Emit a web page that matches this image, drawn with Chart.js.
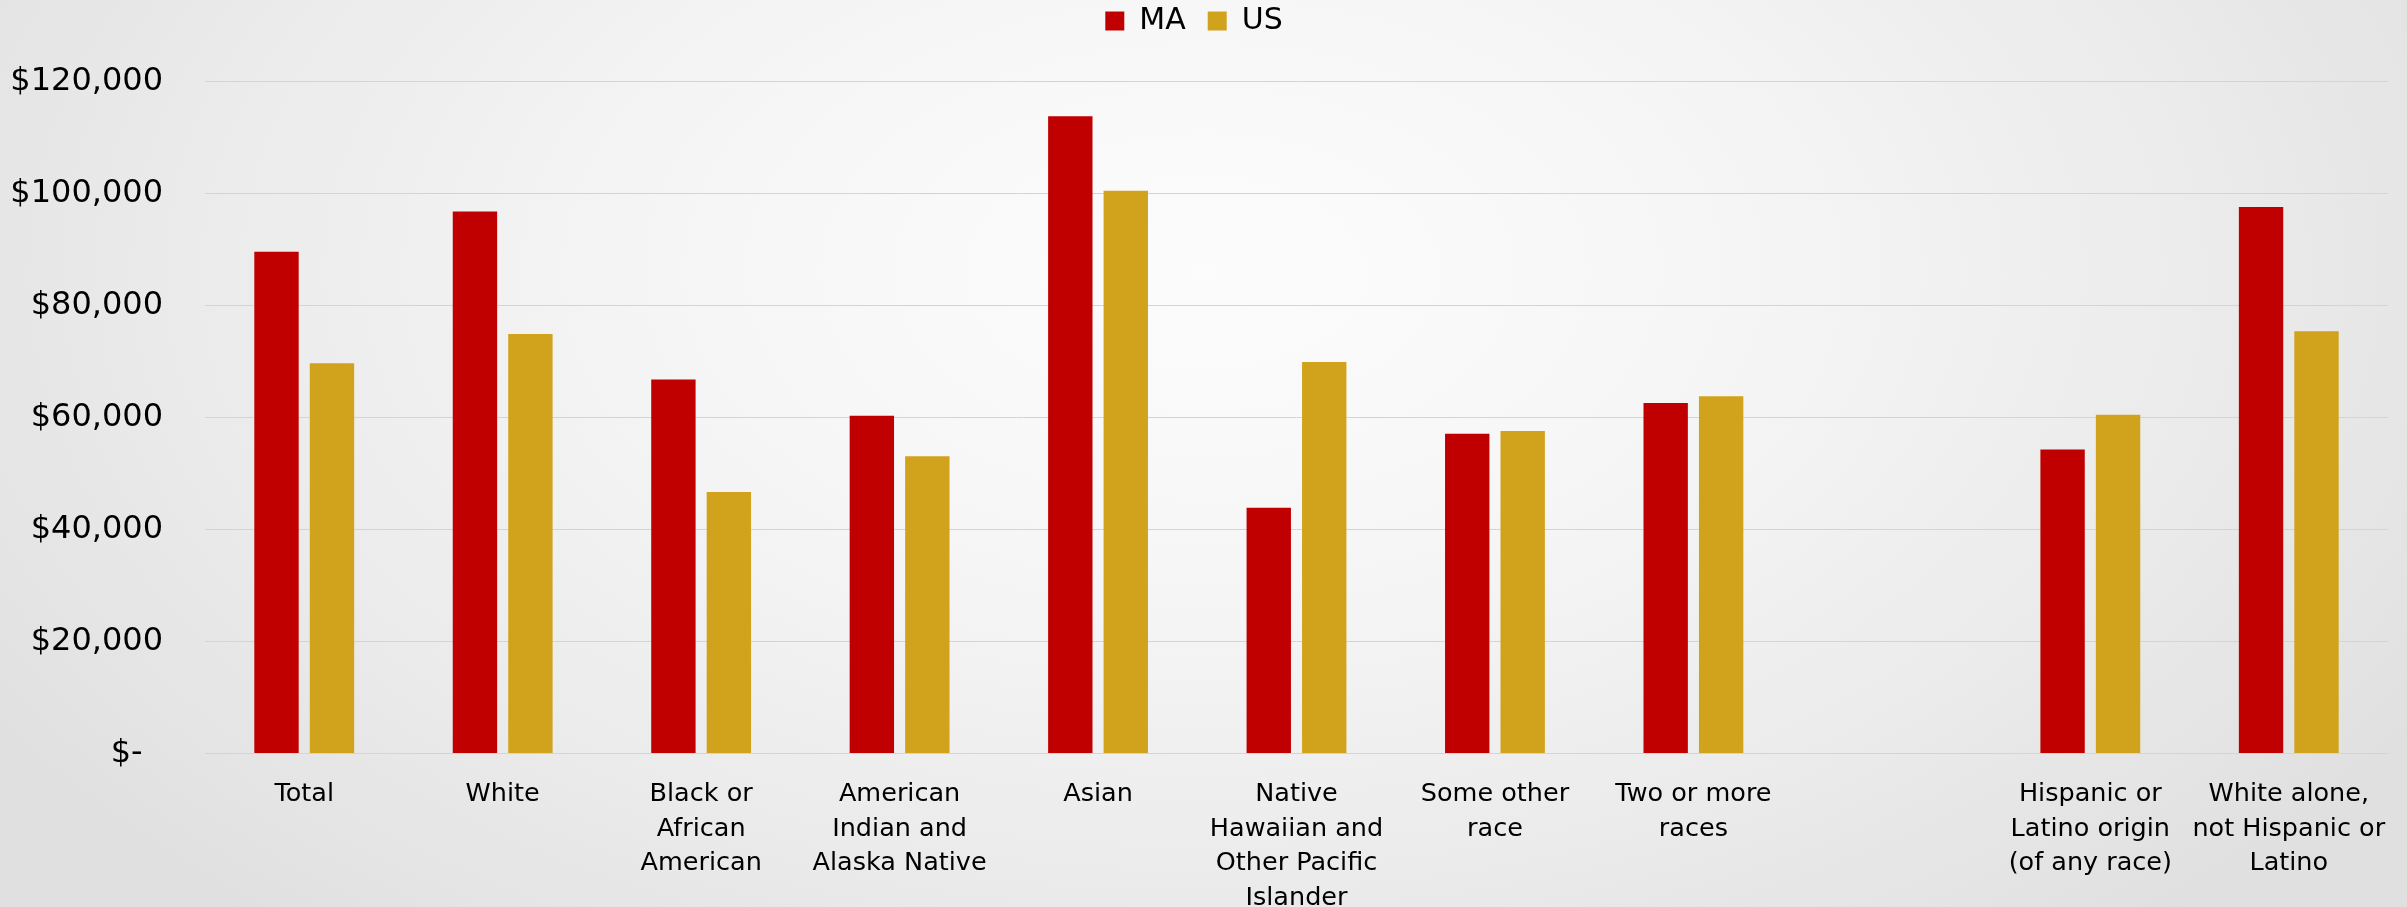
<!DOCTYPE html>
<html>
<head>
<meta charset="utf-8">
<script src="https://cdn.jsdelivr.net/npm/chart.js@4.4.1/dist/chart.umd.min.js"></script>
<style>
  html, body { margin: 0; padding: 0; }
  body {
    width: 2407px; height: 907px; overflow: hidden;
    background: radial-gradient(ellipse 60% 95% at 50% 30%, #fcfcfc 0%, #f6f6f6 35%, #ebebeb 70%, #e0e0e0 100%);
  }
  #wrap { width: 2407px; height: 907px; position: relative; }
</style>
</head>
<body>
<div id="wrap"><canvas id="c" width="2407" height="907"></canvas></div>
<script>
const categories = [
  "Total",
  "White",
  ["Black or", "African", "American"],
  ["American", "Indian and", "Alaska Native"],
  "Asian",
  ["Native", "Hawaiian and", "Other Pacific", "Islander"],
  ["Some other", "race"],
  ["Two or more", "races"],
  "",
  ["Hispanic or", "Latino origin", "(of any race)"],
  ["White alone,", "not Hispanic or", "Latino"]
];
const seriesNames = ["MA", "US"];
const maValues = [89600, 96800, 66800, 60300, 113800, 43900, 57100, 62600, null, 54300, 97600];
const usValues = [69700, 74900, 46700, 53100, 100500, 69900, 57600, 63800, null, 60500, 75400];
const yTickValues = [0, 20000, 40000, 60000, 80000, 100000, 120000];
const yTickLabels = ["$-  ", "$20,000", "$40,000", "$60,000", "$80,000", "$100,000", "$120,000"];

const FONT = "'DejaVu Sans', sans-serif";

new Chart(document.getElementById('c'), {
  type: 'bar',
  data: {
    labels: categories,
    datasets: [
      { label: seriesNames[0], data: maValues, backgroundColor: '#C00000', borderWidth: 0 },
      { label: seriesNames[1], data: usValues, backgroundColor: '#D1A21C', borderWidth: 0 }
    ]
  },
  options: {
    responsive: false,
    animation: false,
    devicePixelRatio: 1,
    layout: { padding: { top: -16, right: 19, left: 0, bottom: 0 } },
    datasets: { bar: { categoryPercentage: 0.559, barPercentage: 0.8 } },
    plugins: {
      tooltip: { enabled: false },
      legend: {
        position: 'top',
        labels: {
          boxWidth: 19, boxHeight: 19, padding: 22,
          color: '#000',
          font: { family: FONT, size: 30 }
        }
      }
    },
    scales: {
      x: {
        grid: { display: false },
        border: { display: true, color: '#d4d4d4', width: 1 },
        ticks: {
          color: '#000', padding: 16, maxRotation: 0, autoSkip: false,
          font: { family: FONT, size: 25.5, lineHeight: 1.35 }
        },
        afterFit: (s) => { s.height = 153.4; }
      },
      xTop: {
        type: 'category', position: 'top',
        grid: { display: false }, border: { display: false },
        ticks: { display: false },
        afterFit: (s) => { s.height = 35.5; }
      },
      y: {
        min: 0, max: 120000,
        afterBuildTicks: (s) => { s.ticks = yTickValues.map(v => ({ value: v })); },
        grid: { color: '#d4d4d4', lineWidth: 1, drawTicks: false },
        border: { display: false },
        ticks: {
          color: '#000', padding: 42,
          font: { family: FONT, size: 32 },
          callback: (v) => { const i = yTickValues.indexOf(v); return i >= 0 ? yTickLabels[i] : ''; }
        },
        afterFit: (s) => { s.width = 205; }
      }
    }
  }
});
</script>
</body>
</html>
